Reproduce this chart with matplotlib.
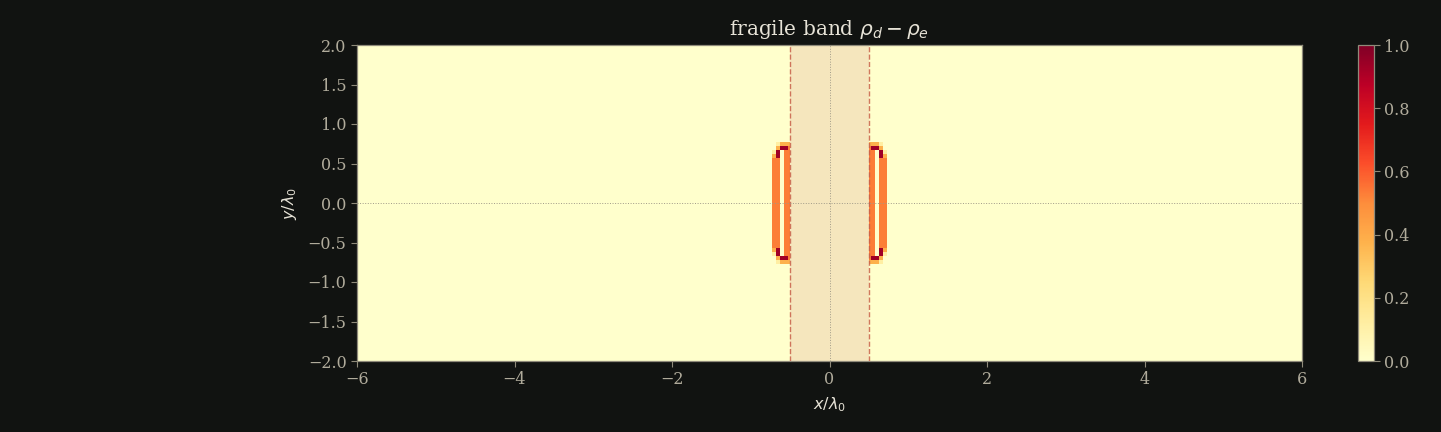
import numpy as np
import matplotlib
matplotlib.use("Agg")
import matplotlib.pyplot as plt

# ---- data ----
x_centers = np.round(np.linspace(-6, 6, 241), 3)
y_centers = np.round(np.linspace(-2, 2, 81), 3)

O, R, L, P = 0.53, 0.93, 0.38, 0.12

left_cols = [-0.70, -0.65, -0.60, -0.55, -0.50]
right_cols = [0.50, 0.55, 0.60, 0.65, 0.70]
patch_rows = [0.75, 0.70, 0.65, 0.60, 0.55, 0.50, 0.45, 0.40, 0.35, 0.30, 0.25,
              0.20, 0.15, 0.10, 0.05, 0.00, -0.05, -0.10, -0.15, -0.20, -0.25,
              -0.30, -0.35, -0.40, -0.45, -0.50, -0.55, -0.60, -0.65, -0.70, -0.75]

left_patch = [
    [0, P, L, L, L],
    [0, L, R, R, O],
    [P, R, 0, O, O],
    [L, R, 0, O, O],
    [O, O, 0, O, O],
    [O, O, 0, O, O],
    [O, O, 0, O, O],
    [O, O, 0, O, O],
    [O, O, 0, O, O],
    [O, O, 0, O, O],
    [O, O, 0, O, O],
    [O, O, 0, O, O],
    [O, O, 0, O, O],
    [O, O, 0, O, O],
    [O, O, 0, O, O],
    [O, O, 0, O, O],
    [O, O, 0, O, O],
    [O, O, 0, O, O],
    [O, O, 0, O, O],
    [O, O, 0, O, O],
    [O, O, 0, O, O],
    [O, O, 0, O, O],
    [O, O, 0, O, O],
    [O, O, 0, O, O],
    [O, O, 0, O, O],
    [O, O, 0, O, O],
    [O, O, 0, O, O],
    [L, R, 0, O, O],
    [P, R, 0, O, O],
    [0, L, R, R, O],
    [0, P, L, L, L],
]

right_patch = [
    [L, L, L, P, 0],
    [O, R, R, L, 0],
    [O, O, 0, R, P],
    [O, O, 0, R, L],
    [O, O, 0, O, O],
    [O, O, 0, O, O],
    [O, O, 0, O, O],
    [O, O, 0, O, O],
    [O, O, 0, O, O],
    [O, O, 0, O, O],
    [O, O, 0, O, O],
    [O, O, 0, O, O],
    [O, O, 0, O, O],
    [O, O, 0, O, O],
    [O, O, 0, O, O],
    [O, O, 0, O, O],
    [O, O, 0, O, O],
    [O, O, 0, O, O],
    [O, O, 0, O, O],
    [O, O, 0, O, O],
    [O, O, 0, O, O],
    [O, O, 0, O, O],
    [O, O, 0, O, O],
    [O, O, 0, O, O],
    [O, O, 0, O, O],
    [O, O, 0, O, O],
    [O, O, 0, O, O],
    [O, O, 0, R, L],
    [O, O, 0, R, P],
    [O, R, R, L, 0],
    [L, L, L, P, 0],
]

band_lo, band_hi = -0.5, 0.5
x_ticks = [-6, -4, -2, 0, 2, 4, 6]
y_ticks = [-2.0, -1.5, -1.0, -0.5, 0.0, 0.5, 1.0, 1.5, 2.0]
cbar_ticks = [0.0, 0.2, 0.4, 0.6, 0.8, 1.0]
title = r"fragile band $\rho_d - \rho_e$"

# ---- build field ----
Z = np.zeros((len(y_centers), len(x_centers)))
def idx(arr, v):
    return int(np.argmin(np.abs(arr - v)))
for r, yv in enumerate(patch_rows):
    iy = idx(y_centers, yv)
    for c, xv in enumerate(left_cols):
        Z[iy, idx(x_centers, xv)] = left_patch[r][c]
    for c, xv in enumerate(right_cols):
        Z[iy, idx(x_centers, xv)] = right_patch[r][c]

# ---- style ----
BG = "#111311"
SPINE = "#8f8a7a"
TICK = "#b0ab9b"
TXT = "#e6e2d6"
plt.rcParams['font.family'] = ['DejaVu Serif']
plt.rcParams['mathtext.fontset'] = 'dejavusans'

fig = plt.figure(figsize=(14.41, 4.32), dpi=100, facecolor=BG)
W, H = 1441, 432
ax = fig.add_axes([357 / W, 1 - 361 / H, 945 / W, 316 / H])
ax.set_facecolor(BG)

dx = x_centers[1] - x_centers[0]
dy = y_centers[1] - y_centers[0]
im = ax.imshow(Z, origin='lower', cmap='YlOrRd', vmin=0, vmax=1,
               interpolation='nearest', aspect='auto',
               extent=[x_centers[0] - dx / 2, x_centers[-1] + dx / 2,
                       y_centers[0] - dy / 2, y_centers[-1] + dy / 2], zorder=1)
ax.axvspan(band_lo, band_hi, color='#f5e6bd', zorder=2, lw=0)
ax.axvline(band_lo, color='#c8604a', ls='--', lw=1.0, alpha=0.85, zorder=3)
ax.axvline(band_hi, color='#c8604a', ls='--', lw=1.0, alpha=0.85, zorder=3)
ax.axhline(0, color='#a09a88', ls=':', lw=0.7, zorder=3)
ax.axvline(0, color='#a09a88', ls=':', lw=0.7, zorder=3)

ax.set_xlim(-6, 6)
ax.set_ylim(-2, 2)
ax.set_xticks(x_ticks)
ax.set_yticks(y_ticks)
ax.set_xticklabels([f"{t:d}".replace('-', '\u2212') for t in x_ticks])
ax.set_yticklabels([f"{t:.1f}".replace('-', '\u2212') for t in y_ticks])
ax.tick_params(colors=SPINE, labelcolor=TICK, labelsize=11.5, length=4, width=0.8)
for s in ax.spines.values():
    s.set_color(SPINE)
    s.set_linewidth(0.9)
ax.set_xlabel(r"$x/\lambda_0$", color=TXT, fontsize=11.5, labelpad=5)
ax.set_ylabel(r"$y/\lambda_0$", color=TXT, fontsize=11.5, labelpad=6)
ax.set_title(title, color=TXT, fontsize=14.5, pad=7)

cax = fig.add_axes([1358 / W, 1 - 361 / H, 16 / W, 316 / H])
cb = fig.colorbar(im, cax=cax, ticks=cbar_ticks)
cb.ax.set_yticklabels([f"{t:.1f}" for t in cbar_ticks])
cb.ax.tick_params(colors=SPINE, labelcolor=TICK, labelsize=11.5, length=4, width=0.8)
cb.outline.set_edgecolor(SPINE)
cb.outline.set_linewidth(0.9)

fig.savefig("out.png", dpi=100, facecolor=BG)
